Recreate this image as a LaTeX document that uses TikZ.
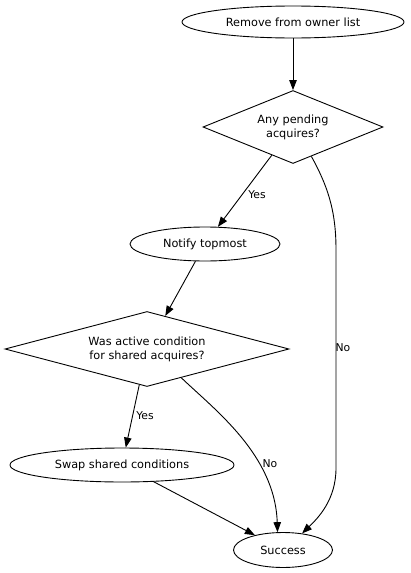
\documentclass[tikz,border=0pt]{standalone}
\usepackage{fontspec}
\setmainfont{DejaVu Sans}
\usetikzlibrary{shapes.geometric,arrows.meta}
\begin{document}
\begin{tikzpicture}[x=1pt,y=-1pt,
  every node/.style={font=\fontsize{11.3}{14}\selectfont},
  oval/.style={ellipse,draw,line width=0.9pt,inner sep=0pt},
  decision/.style={diamond,draw,line width=0.9pt,inner sep=0pt,align=center},
  conn/.style={line width=0.9pt,-{Triangle[length=10pt,width=7.5pt]}},
  lbl/.style={inner sep=0pt,font=\fontsize{10.8}{12}\selectfont}]
\useasboundingbox (0,0) rectangle (411,573);
\node[oval,minimum width=222pt,minimum height=32pt] (remove) at (293,22) {Remove from owner list};
\node[decision,aspect=2.47,minimum width=180pt,minimum height=73pt] (pending) at (293,127) {Any pending\\acquires?};
\node[oval,minimum width=150pt,minimum height=34pt] (notify) at (205,244) {Notify topmost};
\node[decision,aspect=3.79,minimum width=284pt,minimum height=75pt] (shared) at (147,349) {Was active condition\\for shared acquires?};
\node[oval,minimum width=224pt,minimum height=34pt] (swap) at (122,465) {Swap shared conditions};
\node[oval,minimum width=99pt,minimum height=35pt] (success) at (283,550) {Success};

\draw[conn] (remove) -- (pending);
\draw[conn] (pending) -- (notify);
\draw[conn] (notify) -- (shared);
\draw[conn] (shared) -- (swap);
\draw[conn] (swap) -- (success);
\draw[conn] (pending.-58) .. controls (330,190) and (336,215) .. (336,250)
  -- (336,468) .. controls (336,500) and (318,518) .. (success.41);
\draw[conn] (shared.-40) .. controls (215,410) and (275,455) .. (success.107);

\node[lbl] (yes1) at (257,195) {Yes};
\node[lbl] (no1) at (343,348) {No};
\node[lbl] (yes2) at (145,416) {Yes};
\node[lbl] (no2) at (270,464) {No};
\end{tikzpicture}
\end{document}
